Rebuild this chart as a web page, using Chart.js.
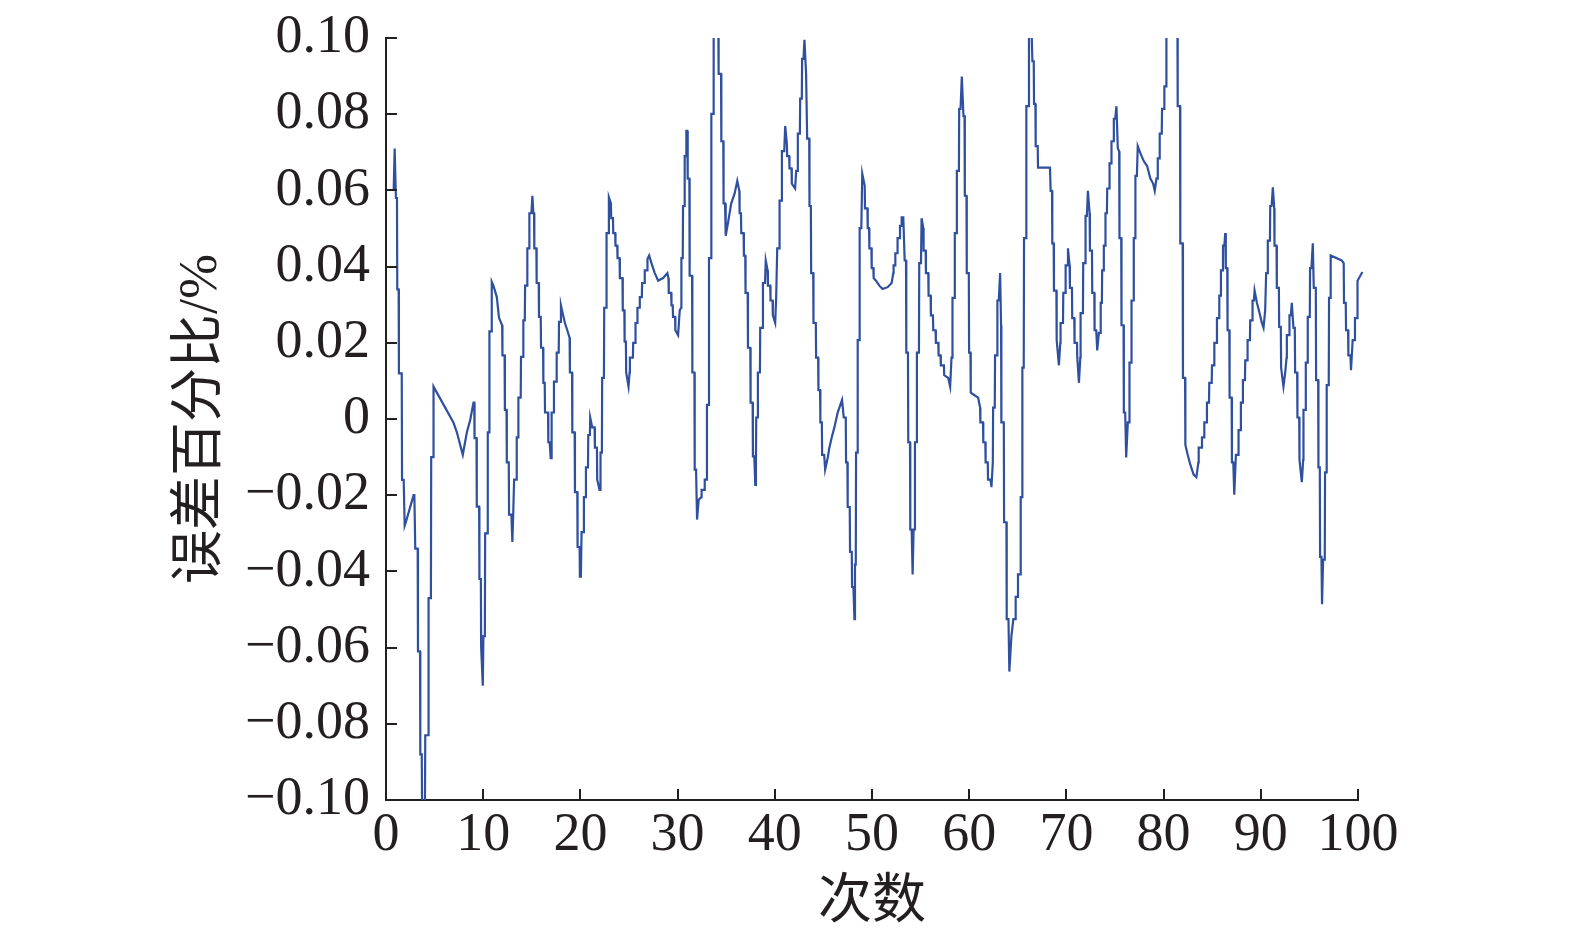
<!DOCTYPE html>
<html>
<head>
<meta charset="utf-8">
<script src="https://cdn.jsdelivr.net/npm/chart.js@4.4.0/dist/chart.umd.min.js"></script>
<style>
html,body{margin:0;padding:0;background:#ffffff;}
canvas{display:block;}
</style>
</head>
<body>
<canvas id="c" width="1575" height="944"></canvas>
<script>
// ---- data ----
const times = [
0.79,0.89,1.02,1.13,1.16,1.30,1.33,1.62,1.65,1.82,
1.92,2.05,2.84,2.92,3.01,3.26,3.29,3.50,3.53,3.68,
3.72,4.00,4.04,4.35,4.38,4.62,4.65,4.86,4.89,6.95,
7.29,7.90,8.32,8.66,9.00,9.08,9.11,9.31,9.34,9.58,
9.61,9.76,9.79,9.96,10.02,10.17,10.20,10.44,10.47,10.61,
10.64,10.85,10.88,11.05,11.40,11.63,11.95,11.98,12.20,12.23,
12.40,12.43,12.63,12.66,12.90,13.00,13.08,13.15,13.18,13.42,
13.45,13.59,13.62,13.86,13.89,14.10,14.13,14.28,14.31,14.51,
14.54,14.72,14.75,14.96,15.06,15.16,15.23,15.26,15.47,15.50,
15.71,15.74,15.92,15.95,16.16,16.19,16.33,16.36,16.67,16.70,
16.84,16.94,17.01,17.04,17.25,17.28,17.53,17.56,17.77,17.80,
17.97,18.00,18.17,18.41,18.65,18.89,18.92,19.14,19.17,19.41,
19.44,19.68,19.71,19.92,19.95,20.05,20.12,20.33,20.36,20.54,
20.57,20.78,20.81,20.98,21.01,21.22,21.46,21.49,21.70,21.73,
21.97,22.04,22.07,22.21,22.24,22.42,22.45,22.66,22.69,22.90,
22.93,23.14,23.17,23.35,23.38,23.58,23.61,23.79,23.82,24.03,
24.06,24.33,24.36,24.52,24.55,24.68,24.71,24.95,25.06,25.09,
25.40,25.43,25.64,25.67,25.84,25.87,26.08,26.11,26.32,26.35,
26.59,26.62,26.87,26.90,27.07,27.31,27.65,28.00,28.51,28.95,
29.06,29.09,29.34,29.37,29.50,29.53,29.74,29.77,30.05,30.22,
30.36,30.39,30.53,30.56,30.70,30.73,30.87,30.90,31.00,31.04,
31.21,31.24,31.49,31.52,31.73,31.76,31.90,32.00,32.17,32.44,
32.47,32.76,32.79,32.99,33.02,33.20,33.23,33.44,33.47,33.68,
33.71,34.19,34.22,34.47,34.50,34.70,34.73,34.88,34.95,35.18,
35.52,35.87,36.14,36.35,36.38,36.52,36.55,36.79,36.82,36.96,
36.99,37.21,37.24,37.48,37.51,37.72,37.75,37.89,37.99,38.06,
38.09,38.23,38.26,38.47,38.50,38.75,38.78,38.99,39.07,39.26,
39.29,39.53,39.56,39.77,39.80,40.04,40.14,40.22,40.25,40.46,
40.49,40.70,40.73,40.97,41.07,41.24,41.27,41.48,41.51,41.72,
41.75,42.09,42.20,42.34,42.37,42.58,42.61,42.78,42.81,42.95,
43.05,43.22,43.30,43.33,43.54,43.57,43.71,43.74,43.95,43.98,
44.22,44.25,44.46,44.49,44.66,44.69,44.84,44.87,45.08,45.18,
45.45,45.62,45.86,46.13,46.47,46.92,47.09,47.30,47.33,47.47,
47.50,47.71,47.74,47.92,47.95,48.09,48.19,48.25,48.33,48.36,
48.50,48.53,48.70,48.73,48.90,49.00,49.25,49.28,49.53,49.56,
49.70,49.73,49.94,49.97,50.14,50.17,50.41,50.75,51.09,51.61,
52.02,52.19,52.22,52.37,52.40,52.60,52.63,52.85,52.88,53.02,
53.05,53.22,53.36,53.50,53.53,53.70,53.73,53.91,53.94,54.08,
54.18,54.28,54.39,54.42,54.59,54.62,54.83,54.86,55.04,55.10,
55.28,55.31,55.52,55.55,55.79,55.82,56.03,56.06,56.27,56.30,
56.54,56.57,56.82,56.85,57.05,57.08,57.40,57.43,57.84,58.04,
58.18,58.25,58.28,58.49,58.52,58.70,58.73,58.94,58.97,59.11,
59.24,59.41,59.52,59.55,59.72,59.75,59.96,59.99,60.13,60.16,
60.51,60.92,61.12,61.15,61.42,61.45,61.66,61.69,61.91,61.94,
62.19,62.29,62.43,62.46,62.63,62.66,62.87,62.90,63.04,63.18,
63.28,63.31,63.56,63.59,63.83,63.86,64.04,64.13,64.34,64.54,
64.75,64.78,64.99,65.02,65.27,65.30,65.44,65.47,65.61,65.64,
65.85,65.88,66.12,66.15,66.43,66.50,66.64,66.67,66.81,66.84,
67.05,67.08,68.31,68.38,68.52,68.55,68.69,68.72,68.97,69.00,
69.23,69.37,69.40,69.65,69.68,69.89,69.92,70.13,70.16,70.33,
70.36,70.57,70.60,70.81,70.84,71.09,71.12,71.29,71.43,71.46,
71.70,71.73,71.94,71.97,72.11,72.21,72.39,72.42,72.63,72.66,
72.87,72.90,73.07,73.17,73.34,73.50,73.53,73.65,73.68,73.82,
73.85,73.99,74.02,74.17,74.20,74.41,74.44,74.61,74.64,74.85,
74.88,75.02,75.15,75.29,75.43,75.46,75.64,75.67,75.88,75.91,
76.05,76.15,76.32,76.46,76.49,76.67,76.70,76.90,76.93,77.07,
77.10,77.25,77.34,77.62,77.96,78.30,78.64,78.92,79.09,79.26,
79.37,79.40,79.57,79.60,79.81,79.84,80.05,80.08,80.26,80.29,
81.42,81.45,81.69,81.72,81.96,81.99,82.21,82.24,82.48,82.75,
83.09,83.37,83.58,83.61,83.92,83.95,84.16,84.19,84.43,84.46,
84.67,84.70,84.95,84.98,85.19,85.22,85.46,85.49,85.70,85.73,
85.87,85.90,86.08,86.11,86.25,86.34,86.40,86.55,86.58,86.76,
86.79,87.00,87.03,87.17,87.27,87.44,87.68,87.71,87.92,87.95,
88.13,88.16,88.37,88.40,88.61,88.64,88.88,88.91,89.12,89.15,
89.29,89.36,89.60,89.87,90.11,90.28,90.45,90.52,90.55,90.69,
90.72,90.94,90.97,91.11,91.24,91.38,91.41,91.62,91.65,91.86,
91.89,92.06,92.09,92.33,92.51,92.65,92.68,92.92,92.95,93.09,
93.19,93.36,93.50,93.53,93.74,93.77,93.95,93.98,94.22,94.36,
94.39,94.60,94.63,94.80,94.83,95.04,95.07,95.21,95.35,95.45,
95.66,95.69,95.90,95.93,96.07,96.10,96.24,96.30,96.41,96.58,
96.61,96.75,96.78,96.99,97.02,97.16,97.19,98.32,98.53,98.56,
98.74,98.77,98.98,99.01,99.22,99.28,99.45,99.66,99.69,99.90,
99.93,99.97,100.45
];
const errorPercent = [
0.060,0.071,0.058,0.058,0.034,0.034,0.012,0.012,-0.016,-0.016,
-0.028,-0.027,-0.020,-0.020,-0.034,-0.034,-0.061,-0.061,-0.088,-0.088,
-0.106,-0.106,-0.083,-0.083,-0.047,-0.047,-0.010,-0.010,0.0085,-0.001,
-0.0035,-0.0094,-0.0035,-0.0003,0.0043,0.0043,-0.005,-0.005,-0.023,-0.023,
-0.042,-0.042,-0.060,-0.070,-0.057,-0.057,-0.030,-0.030,-0.0035,-0.0035,
0.023,0.023,0.036,0.035,0.032,0.0265,0.0246,0.0167,0.0167,0.0024,
0.0024,-0.0114,-0.0114,-0.0251,-0.0251,-0.0323,-0.0258,-0.0258,-0.0159,-0.0159,
-0.0048,-0.0048,0.0056,0.0056,0.0163,0.0163,0.0259,0.0259,0.0350,0.0350,
0.0448,0.0448,0.0540,0.0540,0.0586,0.0540,0.0540,0.0448,0.0448,0.0357,
0.0357,0.0268,0.0268,0.0187,0.0187,0.0095,0.0095,0.0017,0.0017,-0.0061,
-0.0061,-0.0103,-0.0103,0.0017,0.0017,0.0098,0.0098,0.0174,0.0174,0.0255,
0.0255,0.0298,0.0278,0.0252,0.0233,0.0213,0.0122,0.0122,-0.0035,-0.0035,
-0.0192,-0.0192,-0.0336,-0.0336,-0.0414,-0.0414,-0.0297,-0.0297,-0.0205,-0.0205,
-0.0127,-0.0127,-0.0042,-0.0042,0.0004,-0.0022,-0.0022,-0.0075,-0.0075,-0.0159,
-0.0186,-0.0186,-0.0088,-0.0088,0.0108,0.0108,0.0292,0.0292,0.0488,0.0488,
0.0582,0.0566,0.0527,0.0527,0.0488,0.0488,0.0455,0.0455,0.0422,0.0422,
0.0370,0.0370,0.0285,0.0285,0.0203,0.0203,0.0122,0.0085,0.0122,0.0161,
0.0161,0.0200,0.0200,0.0252,0.0252,0.0292,0.0292,0.0320,0.0320,0.0357,
0.0357,0.0390,0.0390,0.0420,0.0429,0.0409,0.0383,0.0363,0.0370,0.0383,
0.0370,0.0331,0.0331,0.0298,0.0298,0.0268,0.0268,0.0233,0.0220,0.0285,
0.0292,0.0422,0.0422,0.0559,0.0559,0.0690,0.0690,0.0756,0.0756,0.0631,
0.0631,0.0376,0.0376,0.0122,0.0122,-0.0133,-0.0133,-0.0264,-0.0212,-0.0205,
-0.0186,-0.0186,-0.0159,-0.0159,0.0037,0.0037,0.0422,0.0422,0.0801,0.0801,
0.104,0.104,0.0906,0.0906,0.0729,0.0729,0.0566,0.0566,0.0481,0.0514,
0.0566,0.0592,0.0625,0.0599,0.0540,0.0540,0.0488,0.0488,0.0429,0.0429,
0.0331,0.0331,0.0187,0.0187,0.0043,0.0043,-0.0098,-0.0098,-0.0173,-0.0107,
0.0004,0.0004,0.0122,0.0122,0.0239,0.0239,0.0357,0.0357,0.0416,0.0390,
0.0350,0.0350,0.0311,0.0311,0.0272,0.0252,0.0318,0.0318,0.0448,0.0448,
0.0573,0.0573,0.0703,0.0703,0.0769,0.0723,0.0690,0.0690,0.0658,0.0658,
0.0618,0.0605,0.0651,0.0651,0.0749,0.0749,0.0841,0.0841,0.0945,0.0945,
0.0995,0.0906,0.0906,0.0736,0.0736,0.0559,0.0559,0.0383,0.0383,0.0252,
0.0252,0.0161,0.0161,0.0076,0.0076,-0.0009,-0.0009,-0.0094,-0.0094,-0.0133,
-0.0101,-0.0075,-0.0048,-0.0022,0.0017,0.0050,0.0004,0.0004,-0.0114,-0.0114,
-0.0231,-0.0231,-0.0349,-0.0349,-0.0441,-0.0441,-0.0525,-0.0382,-0.0382,-0.0088,
-0.0088,0.0207,0.0207,0.0501,0.0501,0.0644,0.0612,0.0553,0.0553,0.0501,
0.0501,0.0448,0.0448,0.0396,0.0396,0.0370,0.0363,0.0350,0.0341,0.0346,
0.0357,0.0383,0.0403,0.0403,0.0435,0.0435,0.0475,0.0475,0.0507,0.0507,
0.0529,0.0529,0.0416,0.0416,0.0174,0.0174,-0.0061,-0.0061,-0.0290,-0.0290,
-0.0408,-0.0290,-0.0290,-0.0061,-0.0061,0.0174,0.0174,0.0409,0.0409,0.0527,
0.0501,0.0442,0.0442,0.0383,0.0383,0.0324,0.0324,0.0272,0.0272,0.0233,
0.0233,0.0200,0.0200,0.0167,0.0167,0.0141,0.0141,0.0115,0.0108,0.0085,
0.0161,0.0161,0.0318,0.0318,0.0488,0.0488,0.0651,0.0651,0.0814,0.0814,
0.0899,0.0795,0.0795,0.0586,0.0586,0.0383,0.0383,0.0174,0.0174,0.0069,
0.0063,0.0056,0.0030,-0.0009,-0.0009,-0.0061,-0.0061,-0.0114,-0.0114,-0.0159,
-0.0159,-0.0179,-0.0114,0.0030,0.0030,0.0167,0.0167,0.0311,0.0311,0.0383,
0.0246,-0.0009,-0.0009,-0.0271,-0.0271,-0.0525,-0.0525,-0.0663,-0.0571,-0.0525,
-0.0525,-0.0467,-0.0467,-0.0408,-0.0408,-0.0205,-0.0205,0.0135,0.0135,0.0475,
0.0475,0.0821,0.0821,0.101,0.101,0.0939,0.0939,0.0827,0.0827,0.0716,
0.0716,0.0660,0.0660,0.0599,0.0599,0.0461,0.0461,0.0337,0.0337,0.0207,
0.0141,0.0200,0.0252,0.0252,0.0331,0.0331,0.0403,0.0403,0.0448,0.0403,
0.0344,0.0344,0.0265,0.0265,0.0200,0.0200,0.0161,0.0095,0.0161,0.0278,
0.0278,0.0409,0.0409,0.0533,0.0533,0.0599,0.0540,0.0442,0.0442,0.0331,
0.0331,0.0233,0.0233,0.0180,0.0226,0.0226,0.0305,0.0305,0.0390,0.0390,
0.0455,0.0455,0.0540,0.0540,0.0605,0.0605,0.0671,0.0671,0.0729,0.0729,
0.0788,0.0788,0.0821,0.0710,0.0703,0.0475,0.0475,0.0246,0.0246,0.0017,
0.0017,-0.0101,-0.0009,-0.0009,0.0148,0.0148,0.0311,0.0311,0.0475,0.0475,
0.0638,0.0638,0.0716,0.0697,0.0677,0.0664,0.0631,0.0618,0.0599,0.0631,
0.0631,0.0684,0.0684,0.0749,0.0749,0.0814,0.0814,0.0873,0.0873,0.106,
0.106,0.0821,0.0821,0.0461,0.0461,0.0108,0.0108,-0.0068,-0.0094,-0.0120,
-0.0146,-0.0153,-0.0114,-0.0075,-0.0075,-0.0048,-0.0048,-0.0009,-0.0009,0.0043,
0.0043,0.0095,0.0095,0.0141,0.0141,0.0200,0.0200,0.0265,0.0265,0.0324,
0.0324,0.0390,0.0390,0.0455,0.0455,0.0488,0.0396,0.0396,0.0233,0.0233,
0.0056,0.0056,-0.0114,-0.0114,-0.0199,-0.0094,-0.0094,-0.0029,-0.0029,0.0043,
0.0043,0.0102,0.0102,0.0154,0.0154,0.0207,0.0207,0.0259,0.0259,0.0311,
0.0311,0.0337,0.0305,0.0278,0.0252,0.0239,0.0285,0.0285,0.0383,0.0383,
0.0468,0.0468,0.0559,0.0559,0.0608,0.0553,0.0455,0.0455,0.0344,0.0344,
0.0242,0.0242,0.0135,0.0085,0.0122,0.0161,0.0220,0.0220,0.0272,0.0272,
0.0305,0.0239,0.0239,0.0122,0.0122,0.0004,0.0004,-0.0107,-0.0166,-0.0107,
0.0024,0.0024,0.0148,0.0148,0.0268,0.0268,0.0396,0.0396,0.0461,0.0344,
0.0344,0.0102,0.0102,-0.0127,-0.0127,-0.0362,-0.0362,-0.0486,-0.0369,-0.0369,
-0.0140,-0.0140,0.0089,0.0089,0.0318,0.0318,0.0429,0.0416,0.0409,0.0305,
0.0305,0.0233,0.0233,0.0167,0.0167,0.0128,0.0207,0.0207,0.0265,0.0265,
0.0311,0.0363,0.0386
];
const xTickValues = [0, 10, 20, 30, 40, 50, 60, 70, 80, 90, 100];
const yTickValues = [-0.10, -0.08, -0.06, -0.04, -0.02, 0, 0.02, 0.04, 0.06, 0.08, 0.10];
const xTitle = '次数';
const yTitle = '误差百分比/%';

// ---- chart ----
const INK = '#231f20';
const LINE = '#2f4f9f';
const SERIF = "'Liberation Serif', 'Times New Roman', serif";
const TITLEFONT = "'Liberation Serif', 'Noto Sans CJK SC', serif";

const points = times.map((t, i) => ({ x: t, y: errorPercent[i] }));

function fmtY(v) {
  if (Math.abs(v) < 1e-9) return '0';
  return (v < 0 ? '\u2212' : '') + Math.abs(v).toFixed(2);
}

const innerTicks = {
  id: 'innerTicks',
  afterDraw(chart) {
    const { ctx, chartArea, scales } = chart;
    const xs = scales.x, ys = scales.y;
    ctx.save();
    ctx.strokeStyle = INK;
    ctx.lineWidth = 2;
    ctx.beginPath();
    ys.ticks.forEach(t => {
      const py = Math.round(ys.getPixelForValue(t.value));
      ctx.moveTo(chartArea.left, py);
      ctx.lineTo(chartArea.left + 11, py);
    });
    xs.ticks.forEach(t => {
      const px = Math.round(xs.getPixelForValue(t.value));
      ctx.moveTo(px, chartArea.bottom);
      ctx.lineTo(px, chartArea.bottom - 11);
    });
    ctx.stroke();
    ctx.restore();
  }
};

new Chart(document.getElementById('c'), {
  type: 'line',
  data: {
    datasets: [{
      data: points,
      borderColor: LINE,
      borderWidth: 2.2,
      pointRadius: 0,
      tension: 0,
      fill: false,
      clip: { left: 0, top: 0, right: 8, bottom: 0 }
    }]
  },
  options: {
    responsive: false,
    animation: false,
    devicePixelRatio: 1,
    layout: { padding: { left: 0, right: 217, top: 38, bottom: 0 } },
    plugins: { legend: { display: false }, tooltip: { enabled: false } },
    scales: {
      x: {
        type: 'linear',
        min: 0, max: 100,
        afterBuildTicks: s => { s.ticks = xTickValues.map(v => ({ value: v })); },
        ticks: {
          autoSkip: false, maxRotation: 0, padding: 3,
          color: INK, font: { family: SERIF, size: 54 },
          callback: v => String(v)
        },
        grid: { display: true, drawOnChartArea: false, drawTicks: false },
        border: { display: true, color: INK, width: 2 },
        title: {
          display: true, text: xTitle, color: INK,
          font: { family: TITLEFONT, size: 54 },
          padding: { top: 0, bottom: 8 }
        },
        afterFit: s => { s.height = 144; s.paddingLeft = 0; s.paddingRight = 0; }
      },
      y: {
        type: 'linear',
        min: -0.1, max: 0.1,
        afterBuildTicks: s => { s.ticks = yTickValues.map(v => ({ value: v })); },
        ticks: {
          autoSkip: false, padding: 16,
          color: INK, font: { family: SERIF, size: 54 },
          callback: v => fmtY(v)
        },
        grid: { display: true, drawOnChartArea: false, drawTicks: false },
        border: { display: true, color: INK, width: 2 },
        title: {
          display: true, text: yTitle, color: INK,
          font: { family: TITLEFONT, size: 54 },
          padding: { top: 169, bottom: 0 }
        },
        afterFit: s => { s.width = 386; s.paddingTop = 0; s.paddingBottom = 0; }
      }
    }
  },
  plugins: [innerTicks]
});
</script>
</body>
</html>
